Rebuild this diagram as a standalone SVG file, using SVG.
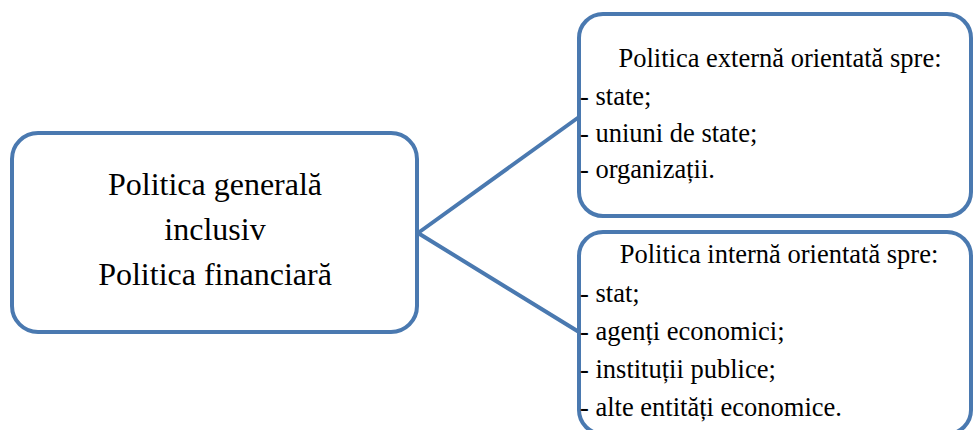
<svg xmlns="http://www.w3.org/2000/svg" width="973" height="430" viewBox="0 0 973 430">
  <style>
    .box { fill: #ffffff; stroke: #4a79b0; stroke-width: 4; }
    .link { fill: none; stroke: #4a79b0; stroke-width: 4; stroke-linecap: round; }
    .main { font-family: "Liberation Serif", "Times New Roman", serif; font-size: 32px; fill: #000000; text-anchor: middle; }
    .head { font-family: "Liberation Serif", "Times New Roman", serif; font-size: 26.5px; fill: #000000; text-anchor: middle; }
    .item { font-family: "Liberation Serif", "Times New Roman", serif; font-size: 26.5px; fill: #000000; }
  </style>
  <rect width="973" height="430" fill="#ffffff"/>

  <!-- connectors from the general policy box to the two branches -->
  <g id="connectors">
    <line class="link" x1="418" y1="233" x2="579" y2="117"/>
    <line class="link" x1="418" y1="233" x2="579" y2="332"/>
  </g>

  <g id="general">
    <rect class="box" x="12" y="133" width="405" height="199" rx="26" ry="26"/>
    <text class="main" x="215" y="195">Politica generală</text>
    <text class="main" x="215" y="240">inclusiv</text>
    <text class="main" x="215" y="285">Politica financiară</text>
  </g>

  <g id="external">
    <rect class="box" x="579" y="14" width="392" height="202" rx="24" ry="24"/>
    <text class="head" x="780" y="67">Politica externă orientată spre:</text>
    <text class="item" x="580" y="105">- state;</text>
    <text class="item" x="580" y="142">- uniuni de state;</text>
    <text class="item" x="580" y="178">- organizații.</text>
  </g>

  <g id="internal">
    <rect class="box" x="579" y="232" width="392" height="202" rx="24" ry="24"/>
    <text class="head" x="779" y="263">Politica internă orientată spre:</text>
    <text class="item" x="580" y="302">- stat;</text>
    <text class="item" x="580" y="340">- agenți economici;</text>
    <text class="item" x="580" y="378">- instituții publice;</text>
    <text class="item" x="580" y="416">- alte entități economice.</text>
  </g>
</svg>
